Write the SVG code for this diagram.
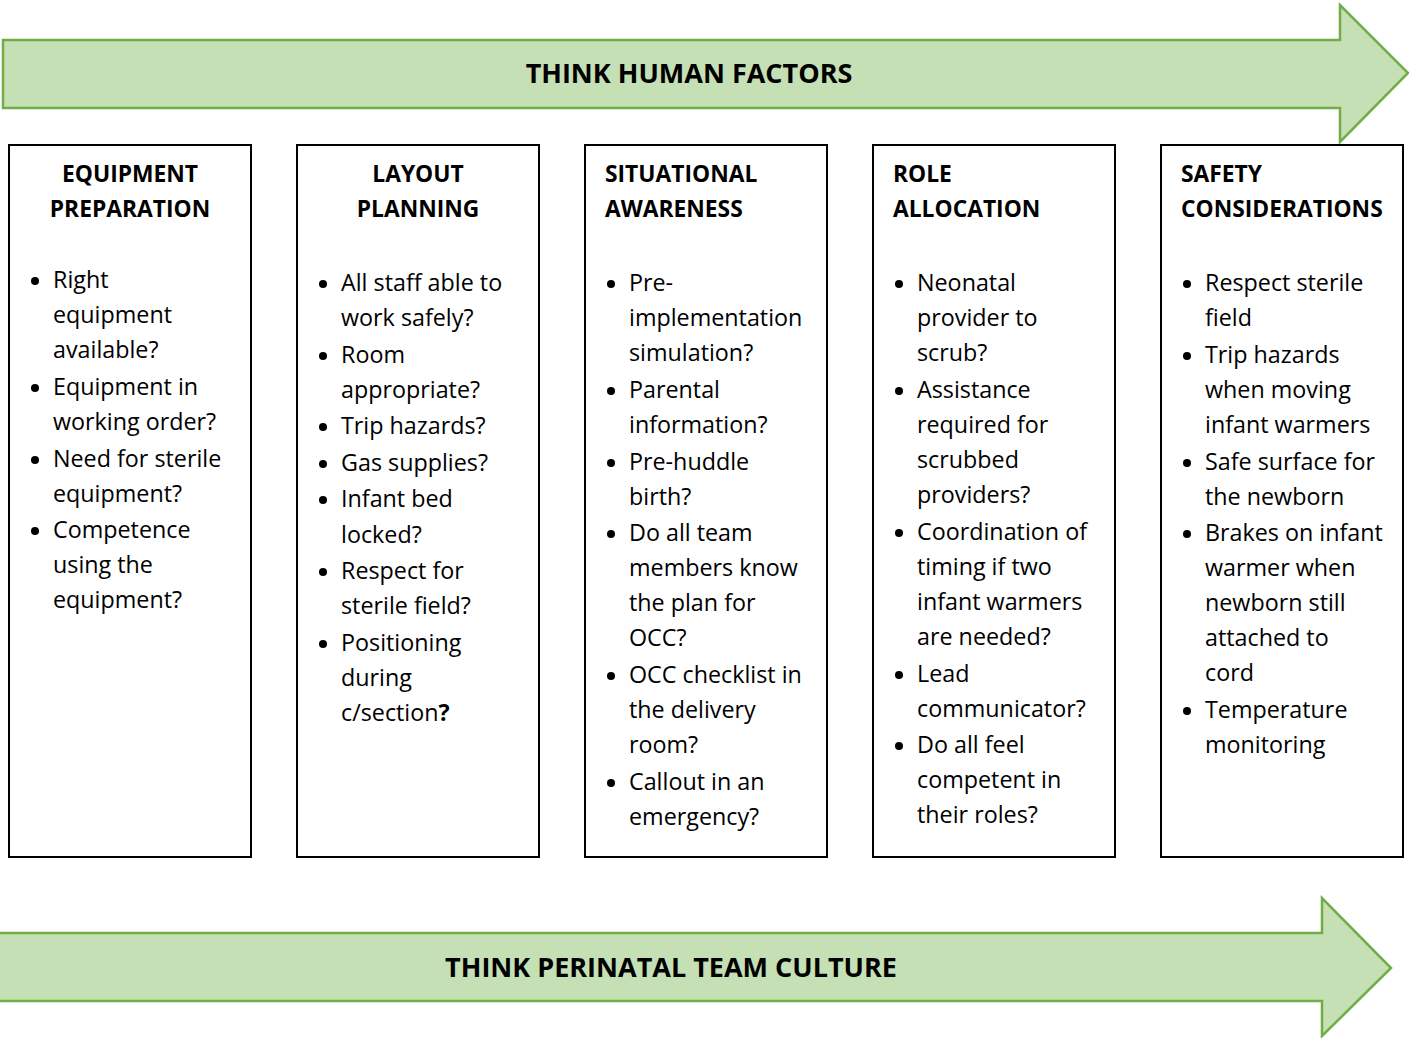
<svg xmlns="http://www.w3.org/2000/svg" width="1409" height="1038" viewBox="0 0 1409 1038">
<style>
.arrow{fill:#C5E0B4;stroke:#70AD47;stroke-width:2.5;stroke-linejoin:miter}
.box{fill:#fff;stroke:#000;stroke-width:2}
.band{font-family:"Open Sans","Liberation Sans",sans-serif;font-weight:bold;font-size:27px;fill:#000;text-anchor:middle}
.hd{font-family:"Open Sans","Liberation Sans",sans-serif;font-weight:bold;font-size:22.8px;fill:#000}
.c{text-anchor:middle}
.t{font-family:"Open Sans","Liberation Sans",sans-serif;font-size:23.3px;fill:#000}
.b{font-weight:bold}
.dot{fill:#000}
</style>
<g id="arrow-top">
<polygon class="arrow" points="3,40 1340,40 1340,5 1408,73 1340,142 1340,108 3,108"/>
<text class="band" x="689" y="83">THINK HUMAN FACTORS</text>
</g>
<g id="arrow-bottom">
<polygon class="arrow" points="-5,933 1322,933 1322,898 1391,968 1322,1036 1322,1001 -5,1001"/>
<text class="band" x="671" y="977">THINK PERINATAL TEAM CULTURE</text>
</g>
<g id="connectors"></g>
<g id="equipment-preparation">
<rect class="box" x="9" y="145" width="242" height="712"/>
<text class="hd c" x="130" y="182">EQUIPMENT</text>
<text class="hd c" x="130" y="217">PREPARATION</text>
<circle class="dot" cx="35" cy="281" r="4"/>
<circle class="dot" cx="35" cy="388" r="4"/>
<circle class="dot" cx="35" cy="460" r="4"/>
<circle class="dot" cx="35" cy="531" r="4"/>
<text class="t" x="53" y="288">Right</text>
<text class="t" x="53" y="323">equipment</text>
<text class="t" x="53" y="358">available?</text>
<text class="t" x="53" y="395">Equipment in</text>
<text class="t" x="53" y="430">working order?</text>
<text class="t" x="53" y="467">Need for sterile</text>
<text class="t" x="53" y="502">equipment?</text>
<text class="t" x="53" y="538">Competence</text>
<text class="t" x="53" y="573">using the</text>
<text class="t" x="53" y="608">equipment?</text>
</g>
<g id="layout-planning">
<rect class="box" x="297" y="145" width="242" height="712"/>
<text class="hd c" x="418" y="182">LAYOUT</text>
<text class="hd c" x="418" y="217">PLANNING</text>
<circle class="dot" cx="323" cy="284" r="4"/>
<circle class="dot" cx="323" cy="356" r="4"/>
<circle class="dot" cx="323" cy="427" r="4"/>
<circle class="dot" cx="323" cy="464" r="4"/>
<circle class="dot" cx="323" cy="500" r="4"/>
<circle class="dot" cx="323" cy="572" r="4"/>
<circle class="dot" cx="323" cy="644" r="4"/>
<text class="t" x="341" y="291">All staff able to</text>
<text class="t" x="341" y="326">work safely?</text>
<text class="t" x="341" y="363">Room</text>
<text class="t" x="341" y="398">appropriate?</text>
<text class="t" x="341" y="434">Trip hazards?</text>
<text class="t" x="341" y="471">Gas supplies?</text>
<text class="t" x="341" y="507">Infant bed</text>
<text class="t" x="341" y="543">locked?</text>
<text class="t" x="341" y="579">Respect for</text>
<text class="t" x="341" y="614">sterile field?</text>
<text class="t" x="341" y="651">Positioning</text>
<text class="t" x="341" y="686">during</text>
<text class="t" x="341" y="721">c/section<tspan class="b">?</tspan></text>
</g>
<g id="situational-awareness">
<rect class="box" x="585" y="145" width="242" height="712"/>
<text class="hd" x="605" y="182">SITUATIONAL</text>
<text class="hd" x="605" y="217">AWARENESS</text>
<circle class="dot" cx="611" cy="284" r="4"/>
<circle class="dot" cx="611" cy="391" r="4"/>
<circle class="dot" cx="611" cy="463" r="4"/>
<circle class="dot" cx="611" cy="534" r="4"/>
<circle class="dot" cx="611" cy="676" r="4"/>
<circle class="dot" cx="611" cy="783" r="4"/>
<text class="t" x="629" y="291">Pre-</text>
<text class="t" x="629" y="326">implementation</text>
<text class="t" x="629" y="361">simulation?</text>
<text class="t" x="629" y="398">Parental</text>
<text class="t" x="629" y="433">information?</text>
<text class="t" x="629" y="470">Pre-huddle</text>
<text class="t" x="629" y="505">birth?</text>
<text class="t" x="629" y="541">Do all team</text>
<text class="t" x="629" y="576">members know</text>
<text class="t" x="629" y="611">the plan for</text>
<text class="t" x="629" y="646">OCC?</text>
<text class="t" x="629" y="683">OCC checklist in</text>
<text class="t" x="629" y="718">the delivery</text>
<text class="t" x="629" y="753">room?</text>
<text class="t" x="629" y="790">Callout in an</text>
<text class="t" x="629" y="825">emergency?</text>
</g>
<g id="role-allocation">
<rect class="box" x="873" y="145" width="242" height="712"/>
<text class="hd" x="893" y="182">ROLE</text>
<text class="hd" x="893" y="217">ALLOCATION</text>
<circle class="dot" cx="899" cy="284" r="4"/>
<circle class="dot" cx="899" cy="391" r="4"/>
<circle class="dot" cx="899" cy="533" r="4"/>
<circle class="dot" cx="899" cy="675" r="4"/>
<circle class="dot" cx="899" cy="746" r="4"/>
<text class="t" x="917" y="291">Neonatal</text>
<text class="t" x="917" y="326">provider to</text>
<text class="t" x="917" y="361">scrub?</text>
<text class="t" x="917" y="398">Assistance</text>
<text class="t" x="917" y="433">required for</text>
<text class="t" x="917" y="468">scrubbed</text>
<text class="t" x="917" y="503">providers?</text>
<text class="t" x="917" y="540">Coordination of</text>
<text class="t" x="917" y="575">timing if two</text>
<text class="t" x="917" y="610">infant warmers</text>
<text class="t" x="917" y="645">are needed?</text>
<text class="t" x="917" y="682">Lead</text>
<text class="t" x="917" y="717">communicator?</text>
<text class="t" x="917" y="753">Do all feel</text>
<text class="t" x="917" y="788">competent in</text>
<text class="t" x="917" y="823">their roles?</text>
</g>
<g id="safety-considerations">
<rect class="box" x="1161" y="145" width="242" height="712"/>
<text class="hd" x="1181" y="182">SAFETY</text>
<text class="hd" x="1181" y="217">CONSIDERATIONS</text>
<circle class="dot" cx="1187" cy="284" r="4"/>
<circle class="dot" cx="1187" cy="356" r="4"/>
<circle class="dot" cx="1187" cy="463" r="4"/>
<circle class="dot" cx="1187" cy="534" r="4"/>
<circle class="dot" cx="1187" cy="711" r="4"/>
<text class="t" x="1205" y="291">Respect sterile</text>
<text class="t" x="1205" y="326">field</text>
<text class="t" x="1205" y="363">Trip hazards</text>
<text class="t" x="1205" y="398">when moving</text>
<text class="t" x="1205" y="433">infant warmers</text>
<text class="t" x="1205" y="470">Safe surface for</text>
<text class="t" x="1205" y="505">the newborn</text>
<text class="t" x="1205" y="541">Brakes on infant</text>
<text class="t" x="1205" y="576">warmer when</text>
<text class="t" x="1205" y="611">newborn still</text>
<text class="t" x="1205" y="646">attached to</text>
<text class="t" x="1205" y="681">cord</text>
<text class="t" x="1205" y="718">Temperature</text>
<text class="t" x="1205" y="753">monitoring</text>
</g>
</svg>
